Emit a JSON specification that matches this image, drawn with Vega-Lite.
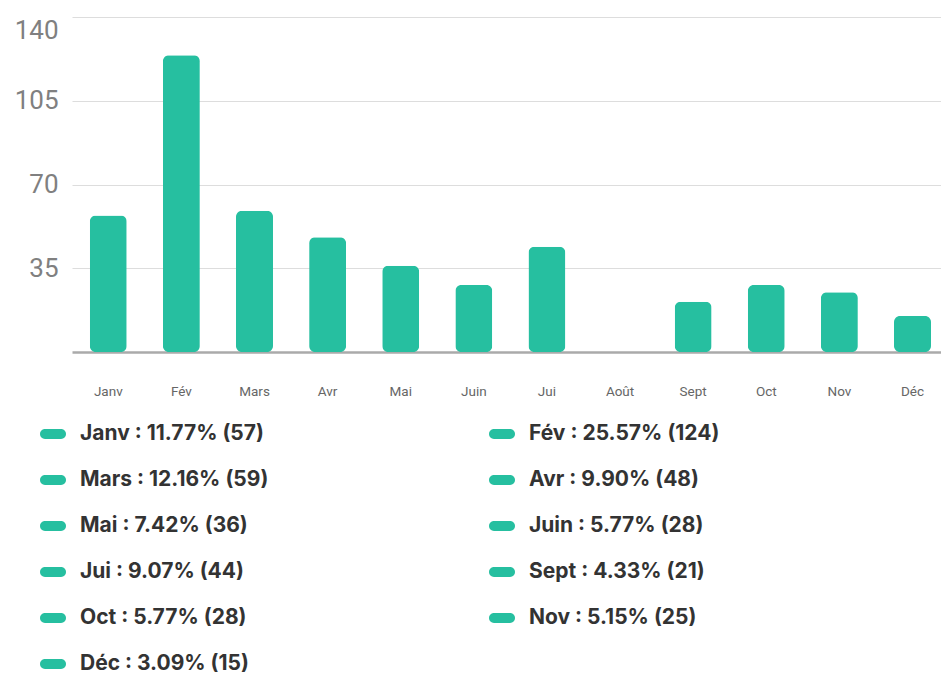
{
  "$schema": "https://vega.github.io/schema/vega-lite/v6.json",
  "autosize": {"type": "none"},
  "width": 869,
  "height": 335,
  "padding": {"left": 72, "top": 17, "right": 0, "bottom": 323},
  "background": "white",
  "config": {"view": {"stroke": null}},
  "data": {
    "values": [
      {"mois": "Janv", "valeur": 57, "legende": "Janv : 11.77% (57)"},
      {"mois": "Fév", "valeur": 124, "legende": "Fév : 25.57% (124)"},
      {"mois": "Mars", "valeur": 59, "legende": "Mars : 12.16% (59)"},
      {"mois": "Avr", "valeur": 48, "legende": "Avr : 9.90% (48)"},
      {"mois": "Mai", "valeur": 36, "legende": "Mai : 7.42% (36)"},
      {"mois": "Juin", "valeur": 28, "legende": "Juin : 5.77% (28)"},
      {"mois": "Jui", "valeur": 44, "legende": "Jui : 9.07% (44)"},
      {"mois": "Août", "valeur": 0, "legende": "Août : 0.00% (0)"},
      {"mois": "Sept", "valeur": 21, "legende": "Sept : 4.33% (21)"},
      {"mois": "Oct", "valeur": 28, "legende": "Oct : 5.77% (28)"},
      {"mois": "Nov", "valeur": 25, "legende": "Nov : 5.15% (25)"},
      {"mois": "Déc", "valeur": 15, "legende": "Déc : 3.09% (15)"}
    ]
  },
  "mark": {"type": "bar", "cornerRadius": 6},
  "encoding": {
    "x": {
      "field": "mois", "type": "nominal", "sort": null, "title": null,
      "scale": {"paddingInner": 0.494, "paddingOuter": 0.19, "align": 0.64},
      "axis": {
        "labelAngle": 0, "ticks": false, "labelPadding": 32,
        "labelFont": "Roboto", "labelFontSize": 13.5, "labelColor": "#666",
        "domainColor": "#aaaaaa", "domainWidth": 2.5, "grid": false
      }
    },
    "y": {
      "field": "valeur", "type": "quantitative", "title": null,
      "scale": {"domain": [0, 140], "nice": false},
      "axis": {
        "values": [35, 70, 105, 140], "ticks": false, "domain": false,
        "labelFont": "Roboto", "labelFontSize": 26, "labelColor": "#808080",
        "labelPadding": 14, "labelFlush": true,
        "gridColor": "#dddddd", "gridWidth": 1.2
      }
    },
    "color": {
      "field": "legende", "type": "nominal", "title": null,
      "scale": {
        "domain": ["Janv : 11.77% (57)", "Fév : 25.57% (124)", "Mars : 12.16% (59)", "Avr : 9.90% (48)", "Mai : 7.42% (36)", "Juin : 5.77% (28)", "Jui : 9.07% (44)", "Sept : 4.33% (21)", "Oct : 5.77% (28)", "Nov : 5.15% (25)", "Déc : 3.09% (15)"],
        "range": ["#26bfa0"]
      },
      "legend": {
        "orient": "none", "legendX": -32, "legendY": 404,
        "direction": "horizontal",
        "columns": 2, "gridAlign": "all", "columnPadding": 217, "rowPadding": 23,
        "symbolType": "M -0.62 -0.38 H 0.62 A 0.38 0.38 0 0 1 0.62 0.38 H -0.62 A 0.38 0.38 0 0 1 -0.62 -0.38 Z",
        "symbolSize": 676, "symbolStrokeWidth": 0, "symbolOpacity": 1,
        "labelFont": "Inter", "labelFontSize": 21, "labelFontWeight": "bold",
        "labelColor": "#333", "labelOffset": 14, "labelLimit": 400
      }
    }
  }
}
